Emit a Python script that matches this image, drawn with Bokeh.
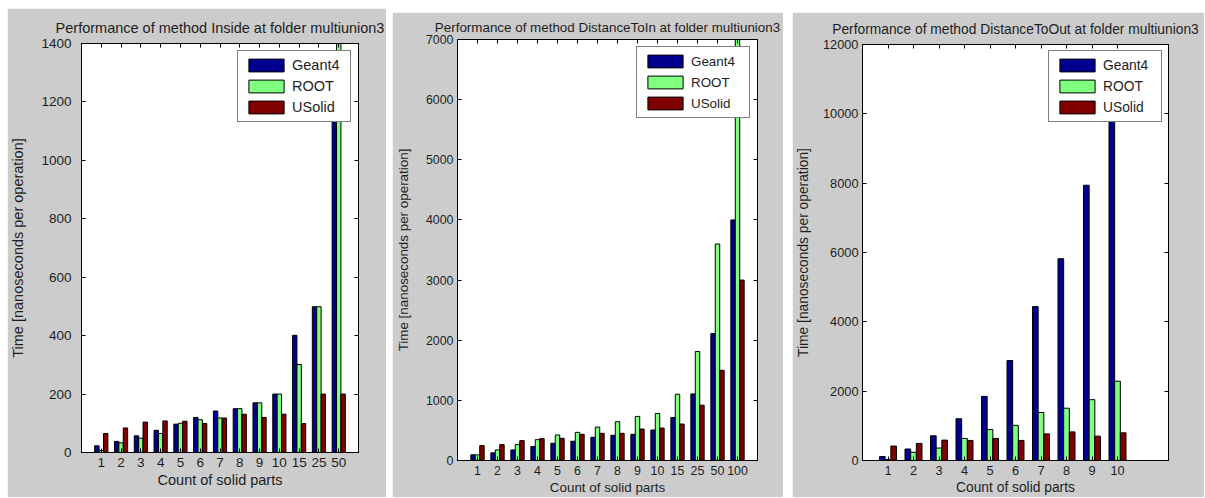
import numpy as np
from bokeh.plotting import figure
from bokeh.models import Range1d, FixedTicker, LinearAxis, Legend, LegendItem, Spacer
from bokeh.layouts import row, column
from bokeh.embed import file_html
from bokeh.resources import INLINE

# ---------------- data ----------------
series_names = ["Geant4", "ROOT", "USolid"]
series_colors = ["#00008F", "#80FF80", "#800000"]

cats_inside = ["1", "2", "3", "4", "5", "6", "7", "8", "9", "10", "15", "25", "50"]
inside_geant4 = [23, 38, 57, 76, 97, 120, 142, 150, 170, 200, 401, 499, 1250]
inside_root = [7, 33, 49, 65, 100, 112, 118, 150, 170, 200, 301, 499, 1600]
inside_usolid = [65, 84, 104, 108, 107, 99, 118, 131, 120, 131, 99, 200, 200]

cats_dtin = ["1", "2", "3", "4", "5", "6", "7", "8", "9", "10", "15", "25", "50", "100"]
dtin_geant4 = [94, 127, 176, 231, 287, 320, 386, 419, 435, 507, 716, 1107, 2110, 4000]
dtin_root = [94, 176, 264, 347, 424, 468, 556, 645, 733, 782, 1102, 1813, 3600, 7500]
dtin_usolid = [248, 264, 331, 364, 369, 435, 452, 452, 523, 540, 606, 920, 1500, 3000]

cats_dtout = ["1", "2", "3", "4", "5", "6", "7", "8", "9", "10"]
dtout_geant4 = [114, 332, 712, 1205, 1850, 2884, 4440, 5820, 7940, 10600]
dtout_root = [28, 237, 360, 636, 892, 1015, 1385, 1509, 1755, 2287]
dtout_usolid = [417, 493, 588, 579, 636, 579, 768, 825, 702, 797]

FONT = "Liberation Sans"
TXT = "#1e1e1e"
BG = "#CCCCCC"


def px(v):
    return "%.1fpx" % v


def make_panel(title, cats, series, xmax, ymax, ystep, width, height, borders,
               fs, ystand, ylab_stand, legend_margin, title_standoff):
    bl, br, bt, bb = borders
    n = len(cats)
    xs = np.arange(1, n + 1)
    p = figure(width=width, height=height,
               x_range=Range1d(0, xmax), y_range=Range1d(0, ymax),
               output_backend="svg", toolbar_location=None,
               min_border_left=bl, min_border_right=br,
               min_border_top=bt, min_border_bottom=bb,
               background_fill_color="white", border_fill_color=BG,
               outline_line_color="black", outline_line_width=1)
    p.xgrid.grid_line_color = None
    p.ygrid.grid_line_color = None

    p.title.text = title
    p.title.text_font = FONT
    p.title.text_font_size = px(fs)
    p.title.text_font_style = "normal"
    p.title.text_color = TXT
    p.title.align = "center"
    p.title.standoff = title_standoff

    w = 0.222
    items = []
    for k, (vals, name, col) in enumerate(zip(series, series_names, series_colors)):
        r = p.vbar(x=xs + (k - 1) * w, top=vals, width=w, bottom=0,
                   fill_color=col, line_color="black", line_width=1)
        items.append(LegendItem(label=name, renderers=[r]))

    xt = [int(v) for v in xs]
    yt = list(range(0, ymax + 1, ystep))

    xa = p.below[0]
    xa.ticker = FixedTicker(ticks=xt)
    xa.major_label_overrides = {int(v): c for v, c in zip(xs, cats)}
    xa.axis_label = "Count of solid parts"
    ya = p.left[0]
    ya.ticker = FixedTicker(ticks=yt)
    ya.axis_label = "Time [nanoseconds per operation]"
    for ax in (xa, ya):
        ax.axis_label_text_font = FONT
        ax.axis_label_text_font_size = px(fs)
        ax.axis_label_text_font_style = "normal"
        ax.axis_label_text_color = TXT
        ax.major_label_text_font = FONT
        ax.major_label_text_font_size = px(fs - 1)
        ax.major_label_text_color = TXT
        ax.major_tick_in = 4
        ax.major_tick_out = 0
        ax.minor_tick_line_color = None
        ax.axis_line_color = "black"
        ax.major_tick_line_color = "black"
    xa.major_label_standoff = 5
    xa.axis_label_standoff = 2
    ya.major_label_standoff = ystand
    ya.axis_label_standoff = ylab_stand

    for ticks, side in ((xt, "above"), (yt, "right")):
        ax = LinearAxis(ticker=FixedTicker(ticks=ticks),
                        major_label_text_font_size="0px", major_label_text_color=None,
                        major_label_standoff=0,
                        major_tick_in=4, major_tick_out=0, axis_line_color="black",
                        minor_tick_line_color=None, major_tick_line_color="black")
        p.add_layout(ax, side)

    leg = Legend(items=items, location="top_right")
    leg.margin = legend_margin
    leg.padding = 6
    leg.spacing = 5
    leg.glyph_width = 44
    leg.glyph_height = 16
    leg.label_height = 16
    leg.label_width = 52
    leg.label_standoff = 4
    leg.label_text_font = FONT
    leg.label_text_font_size = px(fs)
    leg.label_text_color = TXT
    leg.border_line_color = "black"
    leg.border_line_width = 1
    leg.background_fill_color = "white"
    leg.background_fill_alpha = 1.0
    p.add_layout(leg)
    return p


p1 = make_panel("Performance of method Inside at folder multiunion3", cats_inside,
                [inside_geant4, inside_root, inside_usolid], 14, 1400, 200,
                379, 489, (63, 28, 35, 45), 14.5, 10, 12, 7, 15)
p2 = make_panel("Performance of method DistanceToIn at folder multiunion3", cats_dtin,
                [dtin_geant4, dtin_root, dtin_usolid], 15, 7000, 1000,
                391, 485, (57, 26, 27, 35), 13.4, 4, 12, 7, 10)
p3 = make_panel("Performance of method DistanceToOut at folder multiunion3", cats_dtout,
                [dtout_geant4, dtout_root, dtout_usolid], 12, 12000, 2000,
                412, 485, (69, 36, 31, 34), 13.8, 4, 9, 6, 15)

layout = column(Spacer(height=8),
                row(Spacer(width=7), p1, Spacer(width=6),
                    column(Spacer(height=4), p2), Spacer(width=9),
                    column(Spacer(height=4), p3)))

open("out.html", "w").write(file_html(layout, INLINE))
